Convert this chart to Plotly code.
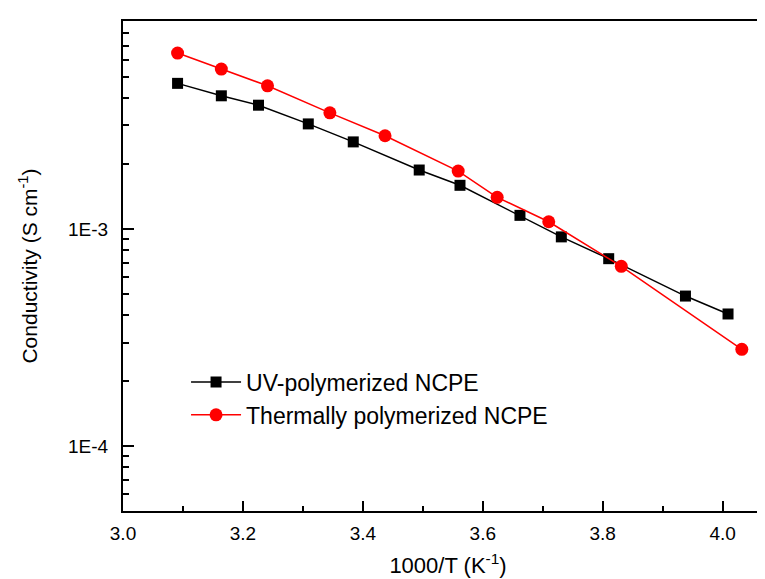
import plotly.graph_objects as go
import math

uv_x = [3.091, 3.164, 3.226, 3.309, 3.384, 3.494, 3.562, 3.662, 3.731, 3.810, 3.938, 4.009]
uv_y = [4.69e-3, 4.11e-3, 3.72e-3, 3.05e-3, 2.52e-3, 1.87e-3, 1.59e-3, 1.156e-3, 9.2e-4, 7.3e-4, 4.91e-4, 4.06e-4]

th_x = [3.091, 3.164, 3.241, 3.345, 3.437, 3.559, 3.624, 3.710, 3.831, 4.032]
th_y = [6.47e-3, 5.46e-3, 4.57e-3, 3.43e-3, 2.69e-3, 1.85e-3, 1.40e-3, 1.08e-3, 6.73e-4, 2.79e-4]

y_tickvals = [1e-4, 1e-3]
y_ticktext = ["1E-4", "1E-3"]
x_tickvals = [3.0, 3.2, 3.4, 3.6, 3.8, 4.0]
x_ticktext = ["3.0", "3.2", "3.4", "3.6", "3.8", "4.0"]

FONT = "Liberation Sans, Arial, sans-serif"

fig = go.Figure()
fig.add_trace(go.Scatter(
    x=uv_x, y=uv_y, mode="lines+markers", name="UV-polymerized NCPE",
    line=dict(color="black", width=1.5),
    marker=dict(symbol="square", size=11, color="black"),
))
fig.add_trace(go.Scatter(
    x=th_x, y=th_y, mode="lines+markers", name="Thermally polymerized NCPE",
    line=dict(color="#ff0000", width=1.5),
    marker=dict(symbol="circle", size=13, color="#ff0000"),
))

fig.update_layout(
    width=765, height=579,
    margin=dict(l=115, r=0, t=13, b=76),
    paper_bgcolor="white", plot_bgcolor="white",
    font=dict(family=FONT, size=19, color="black"),
    showlegend=True,
    legend=dict(
        x=0.097, y=0.2296, xanchor="left", yanchor="middle",
        bgcolor="rgba(0,0,0,0)", font=dict(size=23, family=FONT),
        itemwidth=50, tracegroupgap=0,
    ),
    xaxis=dict(
        range=[3.0, 4.084], showgrid=False, zeroline=False,
        tickvals=x_tickvals, ticktext=x_ticktext,
        ticks="inside", ticklen=10, tickwidth=1.5, tickcolor="black",
        minor=dict(ticks="inside", ticklen=5, tickwidth=1.5, tickcolor="black", dtick=0.1),
        showline=True, linecolor="black", linewidth=2, mirror=True,
        tickfont=dict(size=19), ticklabelstandoff=4,
        title=dict(text="1000/T (K<sup>-1</sup>)", font=dict(size=22), standoff=15),
    ),
    yaxis=dict(
        type="log", range=[math.log10(5.02e-5), -2.0415],
        showgrid=False, zeroline=False,
        tickvals=y_tickvals, ticktext=y_ticktext,
        ticks="inside", ticklen=11, tickwidth=1.5, tickcolor="black",
        minor=dict(ticks="inside", ticklen=6, tickwidth=1.5, tickcolor="black", dtick="D1"),
        showline=True, linecolor="black", linewidth=2, mirror=False,
        tickfont=dict(size=19), ticklabelstandoff=9,
        title=dict(text="Conductivity (S cm<sup>-1</sup>)", font=dict(size=21), standoff=25),
    ),
)

fig.write_html("out.html")
